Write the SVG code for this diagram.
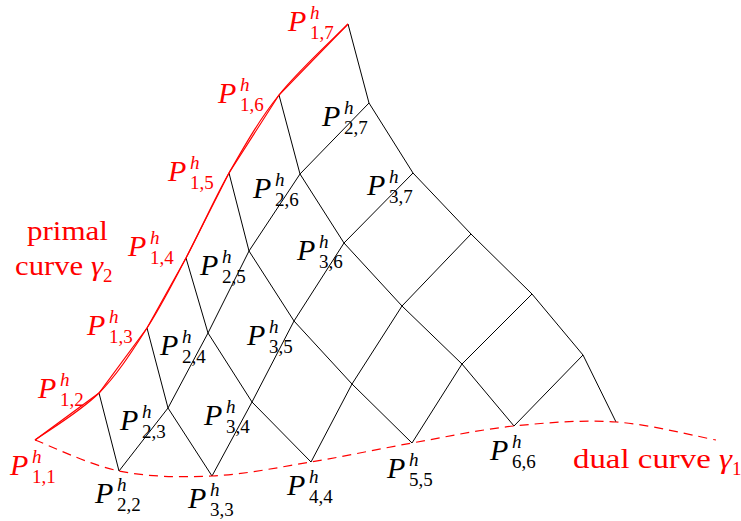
<svg xmlns="http://www.w3.org/2000/svg" width="741" height="521" viewBox="0 0 741 521">
<style>
text{font-family:"Liberation Serif","Times New Roman",serif}
.P{font-size:30px;font-style:italic}
.h{font-size:19px;font-style:italic}
.s{font-size:19px}
.red{fill:#ff0000}
.blk{fill:#000}
.grid{stroke:#000;stroke-width:1;fill:none;stroke-linejoin:round}
.rc{stroke:#ff0000;stroke-width:1.2;fill:none}
.lbl{font-size:27px;fill:#ff0000}
.sub{font-size:19px;fill:#ff0000}
</style>
<rect width="741" height="521" fill="#fff"/>
<g id="connectors" class="grid">
<polyline points="99,393 119,471"/>
<polyline points="147,328 168,408 212,476"/>
<polyline points="186,258 208,333 252,402 311,462"/>
<polyline points="229,173 249,251 294,321 352,384 412,443"/>
<polyline points="279,95 300,174 344,243 402,306 462,364 514,426"/>
<polyline points="348,24 369,103 413,173 471,234 532,294 583,355 616,422"/>
<polyline points="119,471 168,408 208,333 249,251 300,174 369,103"/>
<polyline points="212,476 252,402 294,321 344,243 413,173"/>
<polyline points="311,462 352,384 402,306 471,234"/>
<polyline points="412,443 462,364 532,294"/>
<polyline points="514,426 583,355"/>
</g>
<g id="primal-curve" class="rc">
<polyline points="35,440 99,393 147,328 186,258 229,173 279,95 348,24"/>
<path d="M35,440 C45.7,432.2 80.3,411.7 99,393 C117.7,374.3 132.5,350.5 147,328 C161.5,305.5 172.3,283.8 186,258 C199.7,232.2 213.5,200.2 229,173 C244.5,145.8 259.2,119.8 279,95 C298.8,70.2 336.5,35.8 348,24"/>
</g>
<g id="dual-curve" class="rc">
<path stroke-dasharray="9,6" d="M35,440 C49,445.2 89.5,465 119,471 C148.5,477 180,477.5 212,476 C244,474.5 277.7,467.5 311,462 C344.3,456.5 378.2,449 412,443 C445.8,437 480,429.5 514,426 C548,422.5 582.3,419.7 616,422 C649.7,424.3 699.3,437 716,440"/>
</g>
<g id="label-primal">
<text class="lbl" x="27" y="240" textLength="81" lengthAdjust="spacingAndGlyphs">primal</text>
<text class="lbl" x="15" y="275" textLength="88" lengthAdjust="spacingAndGlyphs">curve <tspan font-style="italic">γ</tspan></text>
<text class="sub" x="103" y="282">2</text>
</g>
<g id="label-dual">
<text class="lbl" x="573" y="468" textLength="159" lengthAdjust="spacingAndGlyphs">dual curve <tspan font-style="italic">γ</tspan></text>
<text class="sub" x="732" y="475">1</text>
</g>
<g id="P11" class="red"><text class="P" x="10" y="475">P</text><text class="h" x="32" y="463">h</text><text class="s" x="32" y="483">1,1</text></g>
<g id="P12" class="red"><text class="P" x="38" y="398">P</text><text class="h" x="60" y="386">h</text><text class="s" x="60" y="406">1,2</text></g>
<g id="P13" class="red"><text class="P" x="87" y="335">P</text><text class="h" x="109" y="323">h</text><text class="s" x="109" y="343">1,3</text></g>
<g id="P14" class="red"><text class="P" x="128" y="256">P</text><text class="h" x="150" y="244">h</text><text class="s" x="150" y="264">1,4</text></g>
<g id="P15" class="red"><text class="P" x="168" y="181">P</text><text class="h" x="190" y="169">h</text><text class="s" x="190" y="189">1,5</text></g>
<g id="P16" class="red"><text class="P" x="218" y="103">P</text><text class="h" x="240" y="91">h</text><text class="s" x="240" y="111">1,6</text></g>
<g id="P17" class="red"><text class="P" x="288" y="31">P</text><text class="h" x="310" y="19">h</text><text class="s" x="310" y="39">1,7</text></g>
<g id="P22" class="blk"><text class="P" x="95" y="503">P</text><text class="h" x="117" y="491">h</text><text class="s" x="117" y="511">2,2</text></g>
<g id="P23" class="blk"><text class="P" x="120" y="430">P</text><text class="h" x="142" y="418">h</text><text class="s" x="142" y="438">2,3</text></g>
<g id="P24" class="blk"><text class="P" x="160" y="355">P</text><text class="h" x="182" y="343">h</text><text class="s" x="182" y="363">2,4</text></g>
<g id="P25" class="blk"><text class="P" x="200" y="275">P</text><text class="h" x="222" y="263">h</text><text class="s" x="222" y="283">2,5</text></g>
<g id="P26" class="blk"><text class="P" x="253" y="198">P</text><text class="h" x="275" y="186">h</text><text class="s" x="275" y="206">2,6</text></g>
<g id="P27" class="blk"><text class="P" x="322" y="126">P</text><text class="h" x="344" y="114">h</text><text class="s" x="344" y="134">2,7</text></g>
<g id="P33" class="blk"><text class="P" x="188" y="508">P</text><text class="h" x="210" y="496">h</text><text class="s" x="210" y="516">3,3</text></g>
<g id="P34" class="blk"><text class="P" x="204" y="425">P</text><text class="h" x="226" y="413">h</text><text class="s" x="226" y="433">3,4</text></g>
<g id="P35" class="blk"><text class="P" x="247" y="345">P</text><text class="h" x="269" y="333">h</text><text class="s" x="269" y="353">3,5</text></g>
<g id="P36" class="blk"><text class="P" x="297" y="260">P</text><text class="h" x="319" y="248">h</text><text class="s" x="319" y="268">3,6</text></g>
<g id="P37" class="blk"><text class="P" x="367" y="195">P</text><text class="h" x="389" y="183">h</text><text class="s" x="389" y="203">3,7</text></g>
<g id="P44" class="blk"><text class="P" x="287" y="495">P</text><text class="h" x="309" y="483">h</text><text class="s" x="309" y="503">4,4</text></g>
<g id="P55" class="blk"><text class="P" x="387" y="478">P</text><text class="h" x="409" y="466">h</text><text class="s" x="409" y="486">5,5</text></g>
<g id="P66" class="blk"><text class="P" x="490" y="460">P</text><text class="h" x="512" y="448">h</text><text class="s" x="512" y="468">6,6</text></g>
</svg>
